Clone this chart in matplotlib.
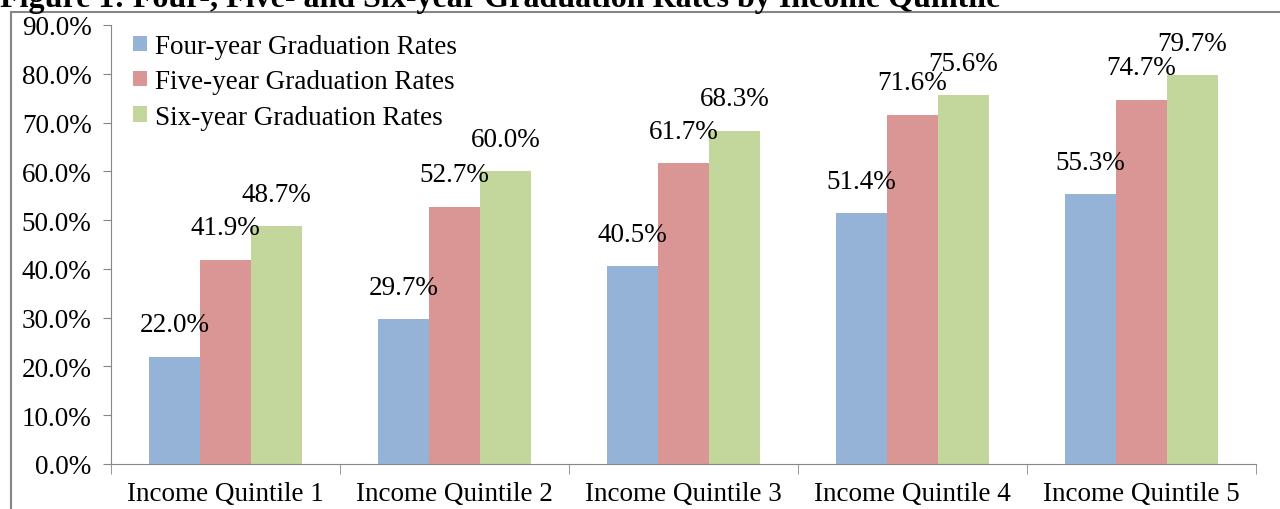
import numpy as np
import matplotlib.pyplot as plt
from matplotlib.patches import Rectangle

# Graduation rates by income quintile
categories = ["Income Quintile 1", "Income Quintile 2", "Income Quintile 3",
              "Income Quintile 4", "Income Quintile 5"]
four_year = [22.0, 29.7, 40.5, 51.4, 55.3]
five_year = [41.9, 52.7, 61.7, 71.6, 74.7]
six_year = [48.7, 60.0, 68.3, 75.6, 79.7]
series_names = ["Four-year Graduation Rates", "Five-year Graduation Rates",
                "Six-year Graduation Rates"]
colors = ["#95B3D7", "#D99694", "#C3D69B"]
title = "Figure 1: Four-, Five- and Six-year Graduation Rates by Income Quintile"

plt.rcParams['font.family'] = ['Liberation Serif', 'DejaVu Serif']
plt.rcParams['font.size'] = 19.5

fig = plt.figure(figsize=(12.8, 5.1), dpi=100)
ax = fig.add_axes([111/1280, 45/510, (1256-111)/1280, (465-26)/510])

x = np.arange(len(categories))
w = 0.223
for i, (vals, name, c) in enumerate(zip([four_year, five_year, six_year], series_names, colors)):
    pos = x + (i - 1) * w
    ax.bar(pos, vals, width=w, color=c, label=name)
    for px, v in zip(pos, vals):
        ax.annotate(f"{v:.1f}%", (px, v), xytext=(0, 14), textcoords='offset points',
                    ha='center', va='bottom')

ax.set_xlim(-0.5, len(categories) - 0.5)
ax.set_ylim(0, 90)
ax.set_yticks(np.arange(0, 91, 10))
ax.set_yticklabels([f"{t:.1f}%" for t in np.arange(0, 91, 10)])
ax.set_xticks(x)
ax.set_xticklabels(categories)
ax.set_xticks(np.arange(-0.5, len(categories)), minor=True)
ax.tick_params(axis='x', which='major', length=0, pad=12)
ax.tick_params(axis='x', which='minor', length=7, color='#868686', direction='out')
ax.tick_params(axis='y', length=6, color='#868686', direction='out', pad=8)

for s in ['top', 'right']:
    ax.spines[s].set_visible(False)
for s in ['left', 'bottom']:
    ax.spines[s].set_color('#868686')

ax.legend(loc='upper left', bbox_to_anchor=(-0.002, 1.035), frameon=False,
          handlelength=0.5, handleheight=0.5, handletextpad=0.3, labelspacing=0.38)

# outer chart border
fig.patches.append(Rectangle((11/1280, -0.01), 1.0, 1 - 13/510 + 0.01,
                             transform=fig.transFigure, fill=False,
                             edgecolor='#868686', lw=1.5))
fig.text(0.0, 1 - 7/510, title, fontweight='bold', fontsize=23, va='baseline', ha='left')

fig.savefig("out.png", dpi=100)
